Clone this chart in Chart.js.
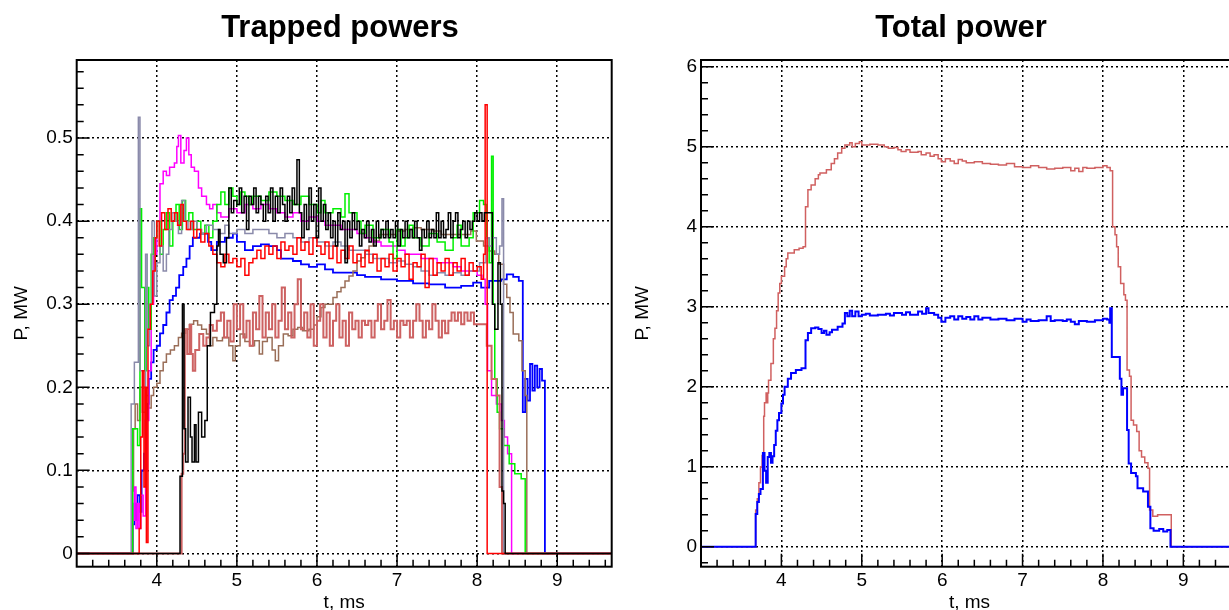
<!DOCTYPE html>
<html>
<head>
<meta charset="utf-8">
<script src="https://cdn.jsdelivr.net/npm/chart.js@4.4.1/dist/chart.umd.min.js"></script>
<style>
  html, body { margin: 0; padding: 0; background: #fff; overflow: hidden; }
  #page { position: relative; width: 1229px; height: 610px; overflow: hidden; background: #fff; }
  canvas { position: absolute; top: 0; }
  #left-chart { left: 0; }
  #right-chart { left: 620px; }
  .title {
    position: absolute; top: 11px; transform: translateX(-50%);
    font: bold 31px "Liberation Sans", Arial, sans-serif; line-height: 31px;
    white-space: nowrap; color: #000;
  }
</style>
</head>
<body>
<div id="page">
  <canvas id="left-chart" width="620" height="610"></canvas>
  <canvas id="right-chart" width="620" height="610"></canvas>
  <div class="title" style="left:340px">Trapped powers</div>
  <div class="title" style="left:961px">Total power</div>
</div>
<script>
// time axis (ms) and tick labels
const tMin = 3.0;
const tMax = 9.68;
const tTicks = [4, 5, 6, 7, 8, 9];
const trappedTicks = [0, 0.1, 0.2, 0.3, 0.4, 0.5];
const totalTicks = [0, 1, 2, 3, 4, 5, 6];

// trapped powers, [t ms, P MW] at each step of the histogram
const grayP = [[3.0,0],[3.68,0.18],[3.72,0.23],[3.77,0.525],[3.79,0.22],[3.83,0.20],[3.86,0.36],[3.88,0.25],[3.91,0.30],[3.94,0.40],[3.97,0.31],[4.0,0.35],[4.04,0.37],[4.08,0.34],[4.12,0.36],[4.15,0.39],[4.19,0.41],[4.23,0.40],[4.27,0.385],[4.31,0.425],[4.35,0.40],[4.39,0.39],[4.44,0.40],[4.5,0.39],[4.56,0.385],[4.62,0.395],[4.7,0.39],[4.78,0.385],[4.85,0.395],[4.9,0.385],[5.0,0.39],[5.1,0.385],[5.2,0.39],[5.3,0.39],[5.4,0.385],[5.5,0.38],[5.6,0.385],[5.7,0.38],[5.8,0.375],[5.9,0.38],[6.0,0.375],[6.1,0.37],[6.2,0.375],[6.3,0.37],[6.4,0.365],[6.5,0.365],[6.6,0.36],[6.7,0.355],[6.8,0.355],[6.9,0.35],[7.0,0.352],[7.1,0.348],[7.2,0.345],[7.3,0.34],[7.4,0.335],[7.5,0.338],[7.6,0.335],[7.7,0.338],[7.8,0.335],[7.9,0.34],[8.03,0.35],[8.11,0.38],[8.15,0.37],[8.19,0.38],[8.24,0.36],[8.28,0.37],[8.31,0.427],[8.33,0],[9.7,0]];
const greenP = [[3.0,0],[3.7,0.15],[3.76,0.13],[3.79,0.415],[3.81,0.32],[3.85,0.22],[3.87,0.32],[3.9,0.27],[3.93,0.36],[3.96,0.38],[4.0,0.40],[4.04,0.36],[4.08,0.39],[4.12,0.41],[4.16,0.37],[4.2,0.40],[4.24,0.42],[4.28,0.39],[4.32,0.425],[4.36,0.40],[4.4,0.41],[4.45,0.39],[4.5,0.40],[4.55,0.385],[4.6,0.395],[4.65,0.38],[4.7,0.40],[4.75,0.42],[4.8,0.435],[4.85,0.42],[4.9,0.44],[4.95,0.43],[5.0,0.42],[5.05,0.435],[5.1,0.43],[5.15,0.42],[5.2,0.43],[5.3,0.425],[5.4,0.435],[5.5,0.43],[5.6,0.425],[5.7,0.42],[5.8,0.43],[5.9,0.42],[6.0,0.41],[6.05,0.425],[6.1,0.41],[6.2,0.415],[6.3,0.405],[6.35,0.433],[6.4,0.41],[6.5,0.40],[6.55,0.385],[6.6,0.395],[6.7,0.38],[6.8,0.39],[6.9,0.375],[6.95,0.355],[7.0,0.39],[7.05,0.37],[7.1,0.38],[7.15,0.395],[7.2,0.38],[7.3,0.37],[7.4,0.385],[7.5,0.375],[7.6,0.365],[7.7,0.38],[7.75,0.395],[7.8,0.37],[7.9,0.38],[7.95,0.41],[8.03,0.425],[8.08,0.42],[8.12,0.38],[8.15,0.35],[8.18,0.478],[8.2,0.30],[8.22,0.21],[8.25,0.17],[8.28,0.15],[8.33,0.13],[8.4,0.108],[8.47,0.096],[8.55,0.09],[8.6,0],[9.7,0]];
const magentaP = [[3.0,0],[3.7,0.04],[3.72,0.08],[3.74,0.03],[3.76,0.06],[3.78,0.03],[3.8,0.07],[3.83,0.045],[3.86,0.10],[3.88,0.16],[3.9,0.22],[3.93,0.30],[3.96,0.36],[4.0,0.40],[4.04,0.445],[4.08,0.46],[4.12,0.455],[4.16,0.465],[4.22,0.47],[4.25,0.49],[4.27,0.503],[4.3,0.47],[4.34,0.485],[4.37,0.50],[4.4,0.48],[4.43,0.465],[4.47,0.46],[4.52,0.44],[4.56,0.43],[4.62,0.42],[4.66,0.415],[4.7,0.42],[4.75,0.41],[4.8,0.405],[4.9,0.415],[5.0,0.41],[5.1,0.42],[5.2,0.415],[5.3,0.42],[5.4,0.415],[5.5,0.41],[5.6,0.405],[5.7,0.41],[5.8,0.40],[5.9,0.405],[6.0,0.40],[6.1,0.395],[6.2,0.395],[6.3,0.39],[6.4,0.39],[6.5,0.385],[6.6,0.38],[6.7,0.375],[6.8,0.37],[6.9,0.37],[7.0,0.365],[7.1,0.36],[7.2,0.36],[7.3,0.355],[7.4,0.355],[7.5,0.35],[7.6,0.35],[7.7,0.345],[7.8,0.34],[7.9,0.34],[8.0,0.335],[8.06,0.33],[8.1,0.30],[8.13,0.22],[8.18,0.19],[8.24,0.18],[8.3,0.16],[8.34,0.14],[8.38,0.12],[8.43,0],[9.7,0]];
const redP = [[3.0,0],[3.78,0.03],[3.8,0.14],[3.82,0.22],[3.84,0.08],[3.86,0.2],[3.87,0.013],[3.89,0.27],[3.92,0.30],[3.95,0.34],[3.98,0.38],[4.0,0.40],[4.03,0.37],[4.06,0.41],[4.1,0.39],[4.14,0.415],[4.18,0.40],[4.22,0.41],[4.26,0.395],[4.3,0.42],[4.33,0.40],[4.37,0.39],[4.42,0.40],[4.46,0.38],[4.5,0.39],[4.55,0.375],[4.6,0.385],[4.65,0.37],[4.7,0.36],[4.75,0.35],[4.8,0.345],[4.85,0.36],[4.9,0.35],[4.95,0.355],[5.0,0.345],[5.05,0.355],[5.1,0.335],[5.15,0.35],[5.2,0.355],[5.25,0.365],[5.3,0.355],[5.35,0.37],[5.4,0.36],[5.45,0.37],[5.5,0.355],[5.55,0.375],[5.6,0.365],[5.65,0.37],[5.7,0.36],[5.75,0.38],[5.8,0.365],[5.85,0.375],[5.9,0.36],[5.95,0.38],[6.0,0.37],[6.05,0.36],[6.1,0.375],[6.15,0.355],[6.2,0.37],[6.25,0.35],[6.3,0.365],[6.35,0.355],[6.4,0.37],[6.45,0.35],[6.5,0.36],[6.55,0.345],[6.6,0.365],[6.65,0.35],[6.7,0.36],[6.75,0.34],[6.8,0.355],[6.85,0.345],[6.9,0.36],[6.95,0.34],[7.0,0.355],[7.05,0.345],[7.1,0.36],[7.15,0.33],[7.2,0.35],[7.25,0.345],[7.3,0.36],[7.35,0.32],[7.4,0.355],[7.45,0.335],[7.5,0.35],[7.55,0.34],[7.6,0.355],[7.65,0.335],[7.7,0.35],[7.75,0.34],[7.8,0.355],[7.85,0.335],[7.9,0.35],[7.95,0.34],[8.0,0.345],[8.05,0.33],[8.08,0.36],[8.1,0.54],[8.125,0],[9.7,0]];
const blueP = [[3.0,0],[3.7,0.035],[3.72,0.06],[3.74,0.04],[3.76,0.07],[3.79,0.05],[3.81,0.10],[3.84,0.12],[3.86,0.16],[3.88,0.18],[3.9,0.21],[3.93,0.23],[3.96,0.245],[4.0,0.25],[4.04,0.265],[4.08,0.275],[4.12,0.29],[4.16,0.305],[4.2,0.31],[4.24,0.32],[4.28,0.335],[4.33,0.345],[4.37,0.355],[4.41,0.37],[4.45,0.38],[4.54,0.385],[4.64,0.375],[4.68,0.365],[4.75,0.375],[4.85,0.38],[4.95,0.385],[5.0,0.375],[5.1,0.365],[5.2,0.37],[5.3,0.372],[5.4,0.37],[5.5,0.365],[5.55,0.355],[5.7,0.352],[5.8,0.348],[5.9,0.345],[6.0,0.348],[6.1,0.342],[6.2,0.338],[6.4,0.338],[6.5,0.335],[6.6,0.333],[6.8,0.33],[7.0,0.328],[7.2,0.325],[7.4,0.324],[7.6,0.32],[7.8,0.322],[7.95,0.326],[8.05,0.32],[8.15,0.328],[8.3,0.33],[8.37,0.336],[8.45,0.333],[8.52,0.328],[8.57,0.17],[8.6,0.21],[8.63,0.184],[8.66,0.228],[8.69,0.196],[8.72,0.226],[8.75,0.2],[8.78,0.222],[8.81,0.208],[8.846,0],[9.7,0]];
const blackP = [[3.0,0],[4.29,0.093],[4.32,0.30],[4.34,0.15],[4.36,0.11],[4.39,0.188],[4.42,0.14],[4.44,0.11],[4.47,0.155],[4.49,0.11],[4.52,0.17],[4.56,0.14],[4.6,0.16],[4.63,0.25],[4.67,0.29],[4.72,0.30],[4.75,0.37],[4.77,0.39],[4.79,0.36],[4.83,0.35],[4.87,0.38],[4.9,0.44],[4.93,0.41],[4.96,0.425],[5.0,0.42],[5.03,0.44],[5.06,0.41],[5.09,0.43],[5.12,0.39],[5.15,0.43],[5.18,0.42],[5.21,0.44],[5.24,0.41],[5.27,0.43],[5.3,0.42],[5.33,0.40],[5.36,0.43],[5.39,0.41],[5.42,0.44],[5.45,0.40],[5.48,0.43],[5.51,0.41],[5.54,0.44],[5.57,0.42],[5.6,0.40],[5.63,0.43],[5.66,0.41],[5.69,0.44],[5.72,0.42],[5.75,0.474],[5.78,0.41],[5.81,0.38],[5.84,0.42],[5.87,0.39],[5.9,0.44],[5.93,0.40],[5.96,0.42],[5.99,0.38],[6.02,0.44],[6.05,0.40],[6.08,0.42],[6.11,0.39],[6.14,0.41],[6.17,0.38],[6.2,0.40],[6.23,0.37],[6.26,0.41],[6.29,0.39],[6.32,0.40],[6.35,0.35],[6.38,0.40],[6.41,0.38],[6.44,0.41],[6.47,0.39],[6.5,0.40],[6.53,0.37],[6.56,0.39],[6.59,0.38],[6.62,0.40],[6.65,0.375],[6.68,0.39],[6.71,0.37],[6.74,0.40],[6.77,0.38],[6.8,0.39],[6.83,0.38],[6.86,0.40],[6.89,0.38],[6.92,0.39],[6.95,0.38],[6.98,0.40],[7.01,0.37],[7.04,0.39],[7.07,0.38],[7.1,0.40],[7.13,0.38],[7.16,0.39],[7.19,0.38],[7.22,0.40],[7.25,0.38],[7.28,0.365],[7.31,0.39],[7.34,0.38],[7.37,0.40],[7.4,0.38],[7.43,0.39],[7.46,0.38],[7.49,0.41],[7.52,0.38],[7.55,0.40],[7.58,0.38],[7.61,0.39],[7.64,0.41],[7.67,0.38],[7.7,0.40],[7.73,0.41],[7.76,0.38],[7.79,0.39],[7.82,0.40],[7.85,0.38],[7.88,0.40],[7.91,0.39],[7.94,0.40],[7.97,0.41],[8.0,0.40],[8.03,0.41],[8.06,0.40],[8.09,0.41],[8.19,0.30],[8.22,0.27],[8.26,0.35],[8.29,0.30],[8.31,0.075],[8.33,0.06],[8.35,0],[9.7,0]];
const rosyP = [[3.0,0],[4.31,0.096],[4.33,0.12],[4.35,0.27],[4.38,0.24],[4.41,0.275],[4.43,0.24],[4.45,0.22],[4.48,0.245],[4.53,0.264],[4.58,0.25],[4.62,0.26],[4.66,0.275],[4.7,0.268],[4.75,0.28],[4.8,0.29],[4.84,0.26],[4.88,0.28],[4.92,0.255],[4.96,0.30],[5.0,0.27],[5.04,0.30],[5.08,0.26],[5.12,0.28],[5.16,0.25],[5.2,0.29],[5.24,0.27],[5.28,0.31],[5.32,0.26],[5.36,0.29],[5.4,0.27],[5.44,0.30],[5.48,0.26],[5.52,0.28],[5.56,0.32],[5.6,0.27],[5.64,0.29],[5.68,0.26],[5.72,0.30],[5.76,0.33],[5.8,0.27],[5.84,0.29],[5.88,0.26],[5.92,0.30],[5.96,0.25],[6.0,0.28],[6.04,0.30],[6.08,0.26],[6.12,0.29],[6.16,0.25],[6.2,0.28],[6.24,0.30],[6.28,0.26],[6.32,0.28],[6.36,0.25],[6.4,0.29],[6.44,0.27],[6.48,0.28],[6.52,0.26],[6.56,0.28],[6.6,0.275],[6.64,0.28],[6.68,0.26],[6.72,0.28],[6.76,0.30],[6.8,0.27],[6.84,0.28],[6.88,0.305],[6.92,0.27],[6.96,0.28],[7.0,0.26],[7.04,0.28],[7.08,0.275],[7.12,0.28],[7.16,0.26],[7.2,0.28],[7.24,0.30],[7.28,0.28],[7.32,0.26],[7.36,0.28],[7.4,0.27],[7.44,0.30],[7.48,0.28],[7.52,0.26],[7.56,0.28],[7.6,0.265],[7.64,0.28],[7.68,0.29],[7.72,0.28],[7.76,0.29],[7.8,0.276],[7.84,0.29],[7.88,0.28],[7.92,0.29],[7.96,0.276],[8.12,0.25],[8.18,0.21],[8.24,0.19],[8.28,0.08],[8.31,0],[9.7,0]];
const brownP = [[3.0,0],[3.69,0.075],[3.71,0.15],[3.73,0.18],[3.76,0.16],[3.79,0.2],[3.82,0.17],[3.86,0.19],[3.9,0.175],[3.93,0.19],[3.96,0.20],[4.0,0.205],[4.04,0.22],[4.08,0.23],[4.12,0.24],[4.17,0.245],[4.22,0.25],[4.27,0.26],[4.31,0.265],[4.36,0.27],[4.41,0.276],[4.46,0.28],[4.51,0.275],[4.56,0.27],[4.62,0.264],[4.66,0.25],[4.7,0.26],[4.75,0.256],[4.82,0.26],[4.9,0.25],[4.95,0.232],[4.98,0.25],[5.04,0.264],[5.1,0.255],[5.16,0.25],[5.22,0.256],[5.28,0.24],[5.32,0.255],[5.38,0.26],[5.44,0.245],[5.48,0.232],[5.52,0.25],[5.58,0.264],[5.64,0.262],[5.7,0.27],[5.76,0.272],[5.82,0.268],[5.9,0.27],[5.96,0.275],[6.0,0.285],[6.05,0.296],[6.1,0.30],[6.2,0.308],[6.25,0.315],[6.3,0.32],[6.35,0.328],[6.4,0.334],[6.45,0.34],[6.5,0.352],[6.55,0.356],[6.6,0.364],[6.65,0.37],[6.7,0.376],[6.78,0.384],[6.9,0.384],[7.0,0.388],[7.1,0.39],[7.2,0.392],[7.3,0.39],[7.45,0.388],[7.55,0.384],[7.7,0.384],[7.87,0.384],[7.92,0.388],[7.99,0.376],[8.08,0.37],[8.15,0.364],[8.22,0.36],[8.27,0.348],[8.33,0.324],[8.37,0.308],[8.41,0.29],[8.45,0.264],[8.52,0.256],[8.56,0.22],[8.6,0.19],[8.62,0],[9.7,0]];

// total power, [t ms, P MW]
const totalRedP = [[3.0,0],[3.68,0.46],[3.7,0.6],[3.72,0.8],[3.74,1.0],[3.76,1.14],[3.78,1.63],[3.79,1.8],[3.81,1.92],[3.82,1.8],[3.83,1.92],[3.84,2.08],[3.87,2.29],[3.9,2.6],[3.92,2.73],[3.94,2.95],[3.96,3.17],[3.98,3.29],[4.0,3.38],[4.04,3.5],[4.06,3.6],[4.08,3.67],[4.16,3.71],[4.22,3.73],[4.27,3.75],[4.3,4.25],[4.33,4.46],[4.37,4.52],[4.42,4.6],[4.46,4.65],[4.48,4.67],[4.56,4.71],[4.62,4.79],[4.66,4.85],[4.7,4.92],[4.75,4.98],[4.79,5.02],[4.85,5.05],[4.88,5.0],[4.92,5.04],[4.97,5.06],[5.0,5.02],[5.1,5.03],[5.2,5.02],[5.28,5.0],[5.33,4.98],[5.4,4.99],[5.45,4.96],[5.49,4.94],[5.55,4.96],[5.6,4.93],[5.7,4.94],[5.74,4.9],[5.8,4.92],[5.85,4.88],[5.9,4.9],[5.95,4.85],[5.99,4.81],[6.04,4.85],[6.1,4.82],[6.15,4.79],[6.2,4.84],[6.25,4.82],[6.3,4.8],[6.4,4.81],[6.5,4.79],[6.6,4.78],[6.7,4.77],[6.8,4.79],[6.9,4.75],[7.0,4.74],[7.1,4.76],[7.2,4.74],[7.3,4.72],[7.4,4.73],[7.5,4.74],[7.6,4.7],[7.65,4.73],[7.7,4.69],[7.75,4.74],[7.8,4.73],[7.9,4.74],[8.0,4.76],[8.05,4.74],[8.09,4.7],[8.12,4.0],[8.15,3.9],[8.17,3.75],[8.19,3.5],[8.22,3.29],[8.26,3.15],[8.28,3.08],[8.3,2.21],[8.33,2.13],[8.35,1.58],[8.38,1.52],[8.42,1.44],[8.45,1.2],[8.48,1.12],[8.52,1.05],[8.56,0.98],[8.58,0.46],[8.62,0.38],[8.68,0.40],[8.85,0],[9.7,0]];
const totalBlueP = [[3.0,0],[3.68,0.41],[3.7,0.56],[3.72,0.66],[3.74,0.72],[3.77,1.17],[3.79,0.95],[3.81,0.8],[3.83,1.12],[3.85,1.17],[3.87,1.05],[3.89,1.13],[3.91,1.27],[3.93,1.45],[3.95,1.58],[3.97,1.67],[4.0,1.79],[4.02,1.9],[4.04,2.0],[4.08,2.1],[4.12,2.17],[4.18,2.21],[4.25,2.23],[4.3,2.58],[4.33,2.67],[4.37,2.73],[4.42,2.74],[4.46,2.72],[4.5,2.67],[4.53,2.7],[4.56,2.65],[4.6,2.68],[4.63,2.71],[4.7,2.75],[4.76,2.79],[4.79,2.92],[4.82,2.88],[4.85,2.95],[4.88,2.88],[4.92,2.94],[4.96,2.88],[5.0,2.9],[5.05,2.91],[5.1,2.89],[5.2,2.9],[5.3,2.91],[5.35,2.89],[5.4,2.92],[5.5,2.9],[5.55,2.93],[5.6,2.9],[5.7,2.94],[5.75,2.91],[5.8,2.98],[5.83,2.92],[5.9,2.9],[5.95,2.86],[5.99,2.81],[6.04,2.86],[6.1,2.88],[6.15,2.84],[6.2,2.88],[6.25,2.85],[6.3,2.87],[6.35,2.84],[6.4,2.88],[6.45,2.84],[6.5,2.86],[6.6,2.84],[6.7,2.85],[6.8,2.83],[6.9,2.85],[7.0,2.81],[7.05,2.84],[7.1,2.82],[7.2,2.83],[7.3,2.88],[7.35,2.82],[7.4,2.83],[7.5,2.82],[7.55,2.84],[7.6,2.81],[7.65,2.78],[7.7,2.82],[7.8,2.81],[7.9,2.83],[8.0,2.85],[8.05,2.84],[8.08,2.8],[8.09,2.98],[8.11,2.37],[8.21,2.1],[8.23,1.9],[8.25,1.98],[8.3,1.46],[8.32,1.04],[8.35,0.92],[8.41,0.88],[8.43,0.73],[8.5,0.69],[8.56,0.5],[8.59,0.23],[8.63,0.2],[8.7,0.22],[8.75,0.19],[8.8,0.21],[8.84,0],[9.7,0]];

const FONT = '"Liberation Sans", Arial, sans-serif';
Chart.defaults.font.family = FONT;
Chart.defaults.color = "#000";

// ROOT-style frame with inward major/minor ticks
const rootFrame = {
  id: "rootFrame",
  afterDraw(chart, args, opts) {
    const { ctx, chartArea: a } = chart;
    const x = chart.scales.x;
    const y = chart.scales.y;
    ctx.save();
    ctx.strokeStyle = "#000";
    ctx.lineWidth = 1.5;
    ctx.beginPath();
    for (let i = 0; ; i++) {
      const v = opts.xFirst + i * opts.xMinor;
      if (v > x.max) break;
      const r = v / opts.xMajor;
      const len = Math.abs(r - Math.round(r)) < 1e-6 ? 13 : 7;
      const px = x.getPixelForValue(v);
      ctx.moveTo(px, a.bottom);
      ctx.lineTo(px, a.bottom - len);
    }
    for (let i = 0; ; i++) {
      const v = opts.yFirst + i * opts.yMinor;
      if (v > y.max) break;
      const r = v / opts.yMajor;
      const len = Math.abs(r - Math.round(r)) < 1e-6 ? 13 : 7;
      const py = y.getPixelForValue(v);
      ctx.moveTo(a.left, py);
      ctx.lineTo(a.left + len, py);
    }
    ctx.stroke();
    ctx.lineWidth = 2;
    ctx.strokeRect(a.left, a.top, a.right - a.left, a.bottom - a.top);
    ctx.restore();
  },
};

function series(points, color, width) {
  return {
    data: points.map(([t, p]) => ({ x: t, y: p })),
    borderColor: color,
    borderWidth: width,
    stepped: true,
    pointRadius: 0,
    fill: false,
  };
}

function makeChart(id, datasets, cfg) {
  return new Chart(document.getElementById(id), {
    type: "line",
    data: { datasets },
    plugins: [rootFrame],
    options: {
      responsive: false,
      animation: false,
      events: [],
      layout: { padding: { top: 60, left: 0, right: cfg.padRight, bottom: 0 } },
      plugins: {
        legend: { display: false },
        tooltip: { enabled: false },
        rootFrame: cfg.frame,
      },
      scales: {
        x: {
          type: "linear",
          min: tMin,
          max: tMax,
          afterBuildTicks: (s) => { s.ticks = tTicks.map((v) => ({ value: v })); },
          afterFit: (s) => { s.height = 43.3; },
          ticks: { autoSkip: false, maxRotation: 0, padding: 2.9, font: { size: 19 }, color: "#000" },
          grid: { color: "#000", lineWidth: 1.5, drawTicks: false },
          border: { display: false, dash: [2, 3] },
          title: { display: true, text: "t, ms", font: { size: 19 }, color: "#000", padding: { top: 0, bottom: -3.9 } },
        },
        y: {
          type: "linear",
          min: cfg.yMin,
          max: cfg.yMax,
          afterBuildTicks: (s) => { s.ticks = cfg.yTicks.map((v) => ({ value: v })); },
          afterFit: (s) => { s.width = cfg.axisWidth; },
          ticks: { autoSkip: false, padding: 4, font: { size: 19 }, color: "#000" },
          grid: { color: "#000", lineWidth: 1.5, drawTicks: false },
          border: { display: false, dash: [2, 3] },
          title: { display: true, text: "P, MW", font: { size: 19 }, color: "#000", padding: { top: cfg.yTitlePad, bottom: 0 } },
        },
      },
    },
  });
}

makeChart(
  "left-chart",
  [
    series(blackP, "#000000", 1.5),
    series(redP, "#ff0000", 1.5),
    series(rosyP, "#cd6262", 2),
    series(grayP, "#8a8aaa", 1.5),
    series(greenP, "#00f000", 1.5),
    series(magentaP, "#ff00ff", 1.5),
    series(brownP, "#9a6e58", 1.5),
    series(blueP, "#0000ff", 1.8),
  ],
  {
    padRight: 8.3,
    axisWidth: 76.7,
    yMin: -0.016,
    yMax: 0.594,
    yTicks: trappedTicks,
    yTitlePad: 10.6,
    frame: { xFirst: 3.2, xMinor: 0.2, xMajor: 1, yFirst: 0, yMinor: 0.02, yMajor: 0.1 },
  }
);

makeChart(
  "right-chart",
  [
    series(totalBlueP, "#0000ff", 2),
    series(totalRedP, "#d06060", 1.5),
  ],
  {
    padRight: 2,
    axisWidth: 81,
    yMin: -0.25,
    yMax: 6.083,
    yTicks: totalTicks,
    yTitlePad: 11.6,
    frame: { xFirst: 3.2, xMinor: 0.2, xMajor: 1, yFirst: -0.2, yMinor: 0.2, yMajor: 1 },
  }
);
</script>
</body>
</html>
